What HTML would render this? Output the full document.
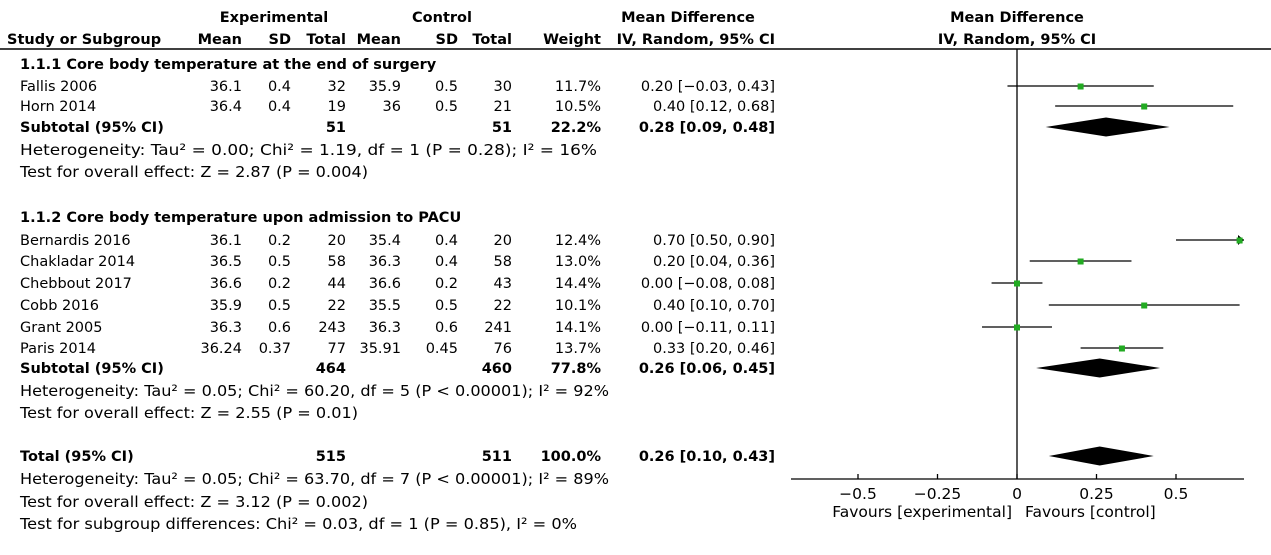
<!DOCTYPE html>
<html><head><meta charset="utf-8"><style>
html,body{margin:0;padding:0;background:#fff;width:1271px;height:555px;overflow:hidden}
svg text{font-family:"DejaVu Sans","Liberation Sans",sans-serif;font-size:14.5px;fill:#000}
svg text.n{font-size:15.5px}
.b{font-weight:bold}
</style></head><body>
<svg id="c" width="1271" height="555" xmlns="http://www.w3.org/2000/svg"></svg>
<script>
const studies=["Fallis 2006","Horn 2014","Bernardis 2016","Chakladar 2014","Chebbout 2017","Cobb 2016","Grant 2005","Paris 2014"];
const studyRowY=[86,106,240,261,283,305,327,348];
const expMean=["36.1","36.4","36.1","36.5","36.6","35.9","36.3","36.24"];
const expSD=["0.4","0.4","0.2","0.5","0.2","0.5","0.6","0.37"];
const expN=["32","19","20","58","44","22","243","77"];
const ctlMean=["35.9","36","35.4","36.3","36.6","35.5","36.3","35.91"];
const ctlSD=["0.5","0.5","0.4","0.4","0.2","0.5","0.6","0.45"];
const ctlN=["30","21","20","58","43","22","241","76"];
const weights=["11.7%","10.5%","12.4%","13.0%","14.4%","10.1%","14.1%","13.7%"];
const md=[0.20,0.40,0.70,0.20,0.00,0.40,0.00,0.33];
const lo=[-0.03,0.12,0.50,0.04,-0.08,0.10,-0.11,0.20];
const hi=[0.43,0.68,0.90,0.36,0.08,0.70,0.11,0.46];
const ciText=["0.20 [−0.03, 0.43]","0.40 [0.12, 0.68]","0.70 [0.50, 0.90]","0.20 [0.04, 0.36]","0.00 [−0.08, 0.08]","0.40 [0.10, 0.70]","0.00 [−0.11, 0.11]","0.33 [0.20, 0.46]"];
const pooledLabels=["Subtotal (95% CI)","Subtotal (95% CI)","Total (95% CI)"];
const pooledY=[127,368,456];
const pooledExpN=["51","464","515"];
const pooledCtlN=["51","460","511"];
const pooledW=["22.2%","77.8%","100.0%"];
const pooledMd=[0.28,0.26,0.26];
const pooledLo=[0.09,0.06,0.10];
const pooledHi=[0.48,0.45,0.43];
const pooledText=["0.28 [0.09, 0.48]","0.26 [0.06, 0.45]","0.26 [0.10, 0.43]"];
const ticks=[-0.5,-0.25,0,0.25,0.5];
const tickLabels=["−0.5","−0.25","0","0.25","0.5"];

const svg=document.getElementById('c');
const NS="http://www.w3.org/2000/svg";
const X0=1017,PX=318,XMIN=791,XMAX=1244,AXY=479;
function x(v){return X0+v*PX;}
function mk(tag,attrs){const e=document.createElementNS(NS,tag);for(const k in attrs)e.setAttribute(k,attrs[k]);svg.appendChild(e);return e;}
function txt(s,xx,yy,anchor,cls,name,tl){const e=mk('text',{x:xx,y:yy,'text-anchor':anchor||'start'});if(cls)e.setAttribute('class',cls);if(tl){e.setAttribute('textLength',tl);e.setAttribute('lengthAdjust','spacingAndGlyphs');}


e.innerHTML=s;return e;}

txt("Experimental",274,22,"middle","b","experimental-header");
txt("Control",442,22,"middle","b","control-header");
txt("Mean Difference",688,22,"middle","b","md-header");
txt("Mean Difference",1017,22,"middle","b","plot-header");
txt("Study or Subgroup",7,44,"start","b","study-header");
const hc=[["Mean",242],["SD",291],["Total",346],["Mean",401],["SD",458],["Total",512],["Weight",601],["IV, Random, 95% CI",775]];
hc.forEach(h=>txt(h[0],h[1],44,"end","b","column-header"));
txt("IV, Random, 95% CI",1017,44,"middle","b","plot-subheader");
let hl=mk('line',{x1:0,y1:49,x2:1271,y2:49,stroke:'#000','stroke-width':1.5});



txt("1.1.1 Core body temperature at the end of surgery",20,69,"start","b","subgroup-1-title");
txt("1.1.2 Core body temperature upon admission to PACU",20,222,"start","b","subgroup-2-title");

let zl=mk('line',{x1:X0,y1:49,x2:X0,y2:AXY,stroke:'#000','stroke-width':1.3});



studies.forEach((s,i)=>{
  const y=studyRowY[i],by=y+5;
  txt(s,20,by,"start",null,"study-name");
  txt(expMean[i],242,by,"end",null,"exp-mean");
  txt(expSD[i],291,by,"end",null,"exp-sd");
  txt(expN[i],346,by,"end",null,"exp-total");
  txt(ctlMean[i],401,by,"end",null,"ctl-mean");
  txt(ctlSD[i],458,by,"end",null,"ctl-sd");
  txt(ctlN[i],512,by,"end",null,"ctl-total");
  txt(weights[i],601,by,"end",null,"weight");
  txt(ciText[i],775,by,"end",null,"ci-text");
  const a=Math.max(XMIN,x(lo[i])),b=Math.min(XMAX,x(hi[i]));
  let l=mk('line',{x1:a,y1:y,x2:b,y2:y,stroke:'#000','stroke-width':1.3});
  
  
  if(x(hi[i])>XMAX){let ar=mk('polygon',{points:`${XMAX},${y} ${XMAX-6},${y-5} ${XMAX-6},${y+5}`,fill:'#000'});
    
    }
  const px=Math.min(XMAX-2,x(md[i]));
  let sq=mk('rect',{x:px-3,y:y-2.5,width:6,height:6,fill:'#22aa22'});
  
  
});

pooledLabels.forEach((s,i)=>{
  const y=pooledY[i],by=y+5;
  txt(s,20,by,"start","b","pooled-label");
  txt(pooledExpN[i],346,by,"end","b","pooled-exp-total");
  txt(pooledCtlN[i],512,by,"end","b","pooled-ctl-total");
  txt(pooledW[i],601,by,"end","b","pooled-weight");
  txt(pooledText[i],775,by,"end","b","pooled-ci");
  let d=mk('polygon',{points:`${x(pooledLo[i])},${y} ${x(pooledMd[i])},${y-9.5} ${x(pooledHi[i])},${y} ${x(pooledMd[i])},${y+9.5}`,fill:'#000'});
  
  
});

txt("Heterogeneity: Tau² = 0.00; Chi² = 1.19, df = 1 (P = 0.28); I² = 16%",20,155,"start","n","heterogeneity-1",577);
txt("Test for overall effect: Z = 2.87 (P = 0.004)",20,177,"start","n","overall-effect-1",348);
txt("Heterogeneity: Tau² = 0.05; Chi² = 60.20, df = 5 (P &lt; 0.00001); I² = 92%",20,396,"start","n","heterogeneity-2",589);
txt("Test for overall effect: Z = 2.55 (P = 0.01)",20,418,"start","n","overall-effect-2",338);
txt("Heterogeneity: Tau² = 0.05; Chi² = 63.70, df = 7 (P &lt; 0.00001); I² = 89%",20,484,"start","n","heterogeneity-total",589);
txt("Test for overall effect: Z = 3.12 (P = 0.002)",20,507,"start","n","overall-effect-total",348);
txt("Test for subgroup differences: Chi² = 0.03, df = 1 (P = 0.85), I² = 0%",20,529,"start","n","subgroup-differences",557);

let ax=mk('line',{x1:XMIN,y1:AXY,x2:XMAX,y2:AXY,stroke:'#000','stroke-width':1.3});


ticks.forEach((t,i)=>{
  let tk=mk('line',{x1:x(t),y1:AXY-5,x2:x(t),y2:AXY,stroke:'#000','stroke-width':1.3});
  
  
  txt(tickLabels[i],x(t),499,"middle","n","x-tick-label");
});
txt("Favours [experimental]",1012,517,"end","n","favours-experimental");
txt("Favours [control]",1025,517,"start","n","favours-control");
</script>
</body></html>
